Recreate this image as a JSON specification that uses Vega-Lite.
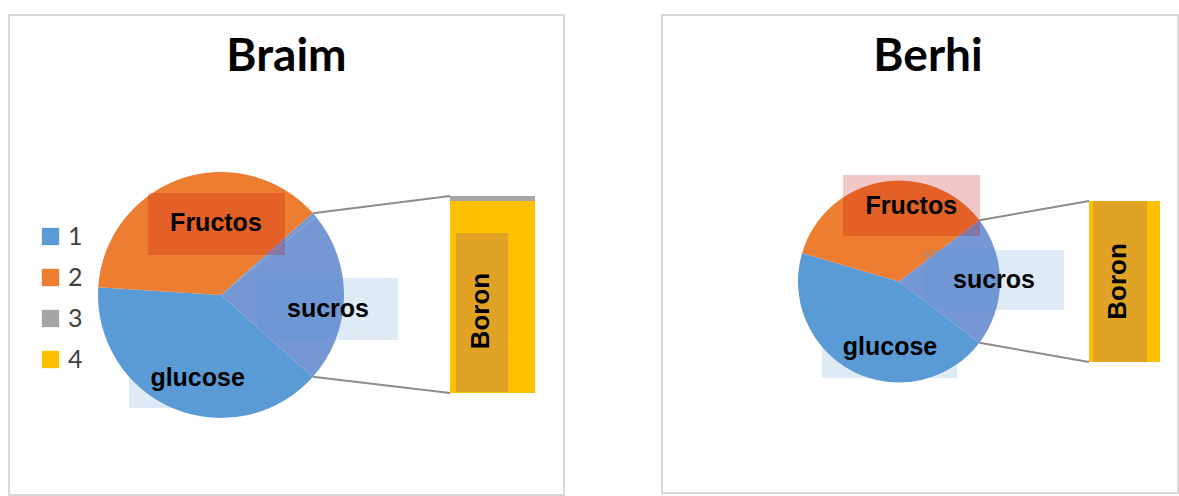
{
  "$schema": "https://vega.github.io/schema/vega-lite/v6.json",
  "padding": {"left": 8, "top": 14, "right": 0, "bottom": 0},
  "background": "white",
  "data": {"values": [
    {"chart": "Braim", "series": "1", "pieLabel": "glucose", "barLabel": "", "value": 39.4},
    {"chart": "Braim", "series": "2", "pieLabel": "Fructos", "barLabel": "", "value": 37.4},
    {"chart": "Braim", "series": "3", "pieLabel": "", "barLabel": "", "value": 0.6},
    {"chart": "Braim", "series": "4", "pieLabel": "sucros", "barLabel": "Boron", "value": 22.6},
    {"chart": "Berhi", "series": "1", "pieLabel": "glucose", "barLabel": "", "value": 44.2},
    {"chart": "Berhi", "series": "2", "pieLabel": "Fructos", "barLabel": "", "value": 35.1},
    {"chart": "Berhi", "series": "3", "pieLabel": "", "barLabel": "", "value": 0},
    {"chart": "Berhi", "series": "4", "pieLabel": "sucros", "barLabel": "Boron", "value": 20.7}
  ]},
  "spacing": 96,
  "resolve": {
    "scale": {"color": "independent", "theta": "independent", "x": "independent", "y": "independent"},
    "legend": {"color": "independent"}
  },
  "hconcat": [
    {
      "width": 555,
      "height": 480,
      "title": {"text": "Braim", "font": "Lato", "fontSize": 46, "fontWeight": "bold", "color": "#000000", "anchor": "middle", "frame": "group", "baseline": "alphabetic", "offset": -102},
      "transform": [{"filter": "datum.chart == 'Braim'"}],
      "layer": [
        {
          "mark": {"type": "arc", "x": 212, "y": 280, "radius": 123},
          "encoding": {
            "theta": {"field": "value", "type": "quantitative", "stack": true, "scale": {"range": [2.29965, 8.58283]}},
            "order": {"field": "series", "type": "ordinal", "sort": "ascending"},
            "color": {
              "condition": {"test": "datum.series == '3' || datum.series == '4'", "value": "#7597D3"},
              "field": "series", "type": "nominal",
              "scale": {"domain": ["1", "2", "3", "4"], "range": ["#5B9BD5", "#ED7D31", "#A5A5A5", "#FFC000"]},
              "legend": {"title": null, "orient": "none", "legendX": 29, "legendY": 209, "symbolType": "square", "symbolSize": 300, "symbolStrokeWidth": 0, "labelFontSize": 25, "labelFont": "Lato", "labelColor": "#404040", "rowPadding": 15, "labelOffset": 5}
            }
          }
        },
        {
          "transform": [{"filter": "datum.series == '3' || datum.series == '4'"}],
          "mark": {"type": "bar"},
          "encoding": {
            "x": {"field": "chart", "type": "nominal", "axis": null, "scale": {"range": [441, 526], "paddingInner": 0, "paddingOuter": 0}},
            "y": {"field": "value", "type": "quantitative", "stack": true, "axis": null, "scale": {"domain": [0, 23.2], "range": [378, 181], "nice": false, "zero": true}},
            "order": {"field": "series", "type": "ordinal", "sort": "descending"},
            "color": {"field": "series", "type": "nominal"}
          }
        },
        {
          "transform": [{"filter": "datum.series == '4'"}],
          "mark": {"type": "bar", "color": "#E0A326", "width": 52, "xOffset": -10.5},
          "encoding": {
            "x": {"field": "chart", "type": "nominal", "axis": null},
            "y": {"datum": 18.84, "type": "quantitative", "axis": null},
            "y2": {"datum": 0.12}
          }
        },
        {
          "transform": [{"filter": "datum.series == '2'"}],
          "mark": {"type": "bar", "color": "#C00000", "opacity": 0.22, "width": 137, "xOffset": -276},
          "encoding": {
            "x": {"field": "chart", "type": "nominal", "axis": null},
            "y": {"datum": 23.55, "type": "quantitative", "axis": null},
            "y2": {"datum": 16.25}
          }
        },
        {
          "transform": [{"filter": "datum.series == '4'"}],
          "mark": {"type": "bar", "color": "#5B9BD5", "opacity": 0.2, "width": 141, "xOffset": -165},
          "encoding": {
            "x": {"field": "chart", "type": "nominal", "axis": null},
            "y": {"datum": 13.54, "type": "quantitative", "axis": null},
            "y2": {"datum": 6.24}
          }
        },
        {
          "transform": [{"filter": "datum.series == '1'"}],
          "mark": {"type": "bar", "color": "#5B9BD5", "opacity": 0.2, "width": 139, "xOffset": -294},
          "encoding": {
            "x": {"field": "chart", "type": "nominal", "axis": null},
            "y": {"datum": 5.65, "type": "quantitative", "axis": null},
            "y2": {"datum": -1.77}
          }
        },
        {
          "transform": [{"filter": "datum.series == '4'"}],
          "mark": {"type": "rule", "color": "#8C8C8C", "strokeWidth": 2},
          "encoding": {"x": {"value": 303.8}, "y": {"value": 198.2}, "x2": {"value": 441}, "y2": {"value": 181}}
        },
        {
          "transform": [{"filter": "datum.series == '4'"}],
          "mark": {"type": "rule", "color": "#8C8C8C", "strokeWidth": 2},
          "encoding": {"x": {"value": 303.8}, "y": {"value": 361.8}, "x2": {"value": 441}, "y2": {"value": 378}}
        },
        {
          "mark": {
            "type": "text", "x": 212, "y": 280, "font": "Liberation Sans", "fontWeight": "bold", "fontSize": 25, "color": "#000000", "baseline": "middle", "align": "center",
            "radius": {"expr": "datum.series == '1' ? 84 : datum.series == '2' ? 72 : 107"},
            "dx": {"expr": "datum.series == '1' ? 9 : datum.series == '2' ? 18.5 : 0"},
            "dy": {"expr": "datum.series == '1' ? 5.5 : datum.series == '2' ? -4 : 12"}
          },
          "encoding": {
            "theta": {"field": "value", "type": "quantitative", "stack": true},
            "order": {"field": "series", "type": "ordinal", "sort": "ascending"},
            "detail": {"field": "series", "type": "nominal"},
            "text": {"field": "pieLabel", "type": "nominal"}
          }
        },
        {
          "transform": [{"filter": "datum.series == '4'"}],
          "mark": {"type": "text", "angle": 270, "font": "Liberation Sans", "fontWeight": "bold", "fontSize": 26, "color": "#000000", "baseline": "middle", "align": "center", "xOffset": -11.5, "yOffset": 14},
          "encoding": {
            "x": {"field": "chart", "type": "nominal", "axis": null},
            "y": {"field": "value", "type": "quantitative", "stack": true, "bandPosition": 0.5, "axis": null},
            "text": {"field": "barLabel", "type": "nominal"}
          }
        }
      ]
    },
    {
      "width": 516,
      "height": 478,
      "title": {"text": "Berhi", "font": "Lato", "fontSize": 46, "fontWeight": "bold", "color": "#000000", "anchor": "middle", "frame": "group", "baseline": "alphabetic", "offset": -102, "dx": 8},
      "transform": [{"filter": "datum.chart == 'Berhi'"}],
      "layer": [
        {
          "mark": {"type": "arc", "x": 237, "y": 266.5, "radius": 101},
          "encoding": {
            "theta": {"field": "value", "type": "quantitative", "stack": true, "scale": {"range": [2.22111, 8.50429]}},
            "order": {"field": "series", "type": "ordinal", "sort": "ascending"},
            "color": {
              "condition": {"test": "datum.series == '3' || datum.series == '4'", "value": "#7597D3"},
              "field": "series", "type": "nominal",
              "scale": {"domain": ["1", "2", "3", "4"], "range": ["#5B9BD5", "#ED7D31", "#A5A5A5", "#FFC000"]},
              "legend": null
            }
          }
        },
        {
          "transform": [{"filter": "datum.series == '3' || datum.series == '4'"}],
          "mark": {"type": "bar"},
          "encoding": {
            "x": {"field": "chart", "type": "nominal", "axis": null, "scale": {"range": [427, 498], "paddingInner": 0, "paddingOuter": 0}},
            "y": {"field": "value", "type": "quantitative", "stack": true, "axis": null, "scale": {"domain": [0, 20.7], "range": [347, 186], "nice": false, "zero": true}},
            "order": {"field": "series", "type": "ordinal", "sort": "descending"},
            "color": {"field": "series", "type": "nominal", "legend": null}
          }
        },
        {
          "transform": [{"filter": "datum.series == '4'"}],
          "mark": {"type": "bar", "color": "#E0A326", "width": 54, "xOffset": -4.5},
          "encoding": {
            "x": {"field": "chart", "type": "nominal", "axis": null},
            "y": {"field": "value", "type": "quantitative", "stack": true, "axis": null}
          }
        },
        {
          "transform": [{"filter": "datum.series == '2'"}],
          "mark": {"type": "bar", "color": "#C00000", "opacity": 0.22, "width": 137, "xOffset": -213},
          "encoding": {
            "x": {"field": "chart", "type": "nominal", "axis": null},
            "y": {"datum": 24.04, "type": "quantitative", "axis": null},
            "y2": {"datum": 16.2}
          }
        },
        {
          "transform": [{"filter": "datum.series == '4'"}],
          "mark": {"type": "bar", "color": "#5B9BD5", "opacity": 0.2, "width": 140, "xOffset": -130.5},
          "encoding": {
            "x": {"field": "chart", "type": "nominal", "axis": null},
            "y": {"datum": 14.4, "type": "quantitative", "axis": null},
            "y2": {"datum": 6.69}
          }
        },
        {
          "transform": [{"filter": "datum.series == '1'"}],
          "mark": {"type": "bar", "color": "#5B9BD5", "opacity": 0.2, "width": 135, "xOffset": -235},
          "encoding": {
            "x": {"field": "chart", "type": "nominal", "axis": null},
            "y": {"datum": 5.79, "type": "quantitative", "axis": null},
            "y2": {"datum": -2.06}
          }
        },
        {
          "transform": [{"filter": "datum.series == '4'"}],
          "mark": {"type": "rule", "color": "#8C8C8C", "strokeWidth": 2},
          "encoding": {"x": {"value": 317.4}, "y": {"value": 205.3}, "x2": {"value": 427}, "y2": {"value": 186}}
        },
        {
          "transform": [{"filter": "datum.series == '4'"}],
          "mark": {"type": "rule", "color": "#8C8C8C", "strokeWidth": 2},
          "encoding": {"x": {"value": 317.4}, "y": {"value": 327.7}, "x2": {"value": 427}, "y2": {"value": 347}}
        },
        {
          "mark": {
            "type": "text", "x": 237, "y": 266.5, "font": "Liberation Sans", "fontWeight": "bold", "fontSize": 25, "color": "#000000", "baseline": "middle", "align": "center",
            "radius": {"expr": "datum.series == '1' ? 70 : datum.series == '2' ? 76 : 95"},
            "dx": {"expr": "datum.series == '1' ? 22.6 : datum.series == '2' ? 26 : 0"},
            "dy": {"expr": "datum.series == '1' ? 3 : datum.series == '2' ? -1 : -1.5"}
          },
          "encoding": {
            "theta": {"field": "value", "type": "quantitative", "stack": true},
            "order": {"field": "series", "type": "ordinal", "sort": "ascending"},
            "detail": {"field": "series", "type": "nominal"},
            "text": {"field": "pieLabel", "type": "nominal"}
          }
        },
        {
          "transform": [{"filter": "datum.series == '4'"}],
          "mark": {"type": "text", "angle": 270, "font": "Liberation Sans", "fontWeight": "bold", "fontSize": 26, "color": "#000000", "baseline": "middle", "align": "center", "xOffset": -6.5},
          "encoding": {
            "x": {"field": "chart", "type": "nominal", "axis": null},
            "y": {"field": "value", "type": "quantitative", "stack": true, "bandPosition": 0.5, "axis": null},
            "text": {"field": "barLabel", "type": "nominal"}
          }
        }
      ]
    }
  ],
  "config": {
    "view": {"stroke": "#D9D9D9", "strokeWidth": 2},
    "font": "Liberation Sans"
  }
}
